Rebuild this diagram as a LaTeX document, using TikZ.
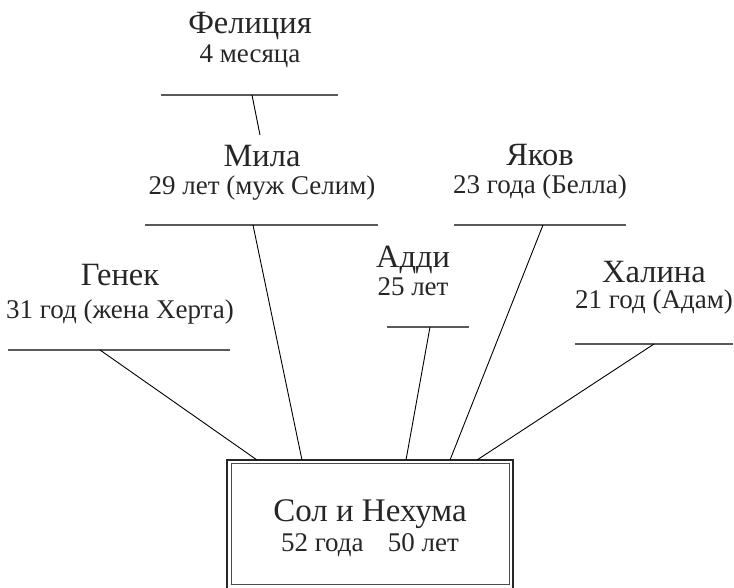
\documentclass[tikz,border=0pt]{standalone}
\usepackage{fontspec}
\setmainfont{Liberation Serif}
\begin{document}
\begin{tikzpicture}[x=1pt,y=-1pt,
  pname/.style={anchor=base, inner sep=0pt, font=\fontsize{32.5}{32.5}\selectfont, text=black!85},
  pinfo/.style={anchor=base, inner sep=0pt, font=\fontsize{27}{27}\selectfont, text=black!85},
  bar/.style={draw=black!65, line width=1.5pt},
  link/.style={draw=black, line width=0.9pt},
  outerframe/.style={draw=black!85, line width=2.6pt},
  innerframe/.style={draw=black!70, line width=0.8pt}]
\path[use as bounding box] (0,0) rectangle (734,587);
\clip (0,0) rectangle (734,587);

% root box
\draw[outerframe] (227,595) -- (227,460) -- (513,460) -- (513,595);
\node[innerframe, minimum width=278pt, minimum height=121pt, inner sep=0pt] (box) at (370,523.5) {};
\node[pname, font=\fontsize{33}{33}\selectfont] (sol) at (370,521) {Сол и Нехума};
\node[pinfo] (solage) at (370,551) {52 года\hspace{0.9em}50 лет};

% Felicia
\node[pname] (fel) at (250,33) {Фелиция};
\node[pinfo] (felage) at (250,62) {4 месяца};
\coordinate (felL) at (161,95); \coordinate (felR) at (338,95);
\draw[bar] (felL) -- (felR);
\coordinate (felA) at (252,95); \coordinate (felB) at (260,135);
\draw[link] (felA) -- (felB);

% Mila
\node[pname] (mila) at (262,166) {Мила};
\node[pinfo] (milaage) at (262,194) {29 лет (муж Селим)};
\coordinate (milaL) at (145,225); \coordinate (milaR) at (378,225);
\draw[bar] (milaL) -- (milaR);
\coordinate (milaA) at (253,225); \coordinate (milaB) at (302,460);
\draw[link] (milaA) -- (milaB);

% Genek
\node[pname] (gen) at (120,285) {Генек};
\node[pinfo] (genage) at (120,318) {31 год (жена Херта)};
\coordinate (genL) at (8,350); \coordinate (genR) at (230,350);
\draw[bar] (genL) -- (genR);
\coordinate (genA) at (100,350); \coordinate (genB) at (257,460);
\draw[link] (genA) -- (genB);

% Addi
\node[pname] (addi) at (413,267) {Адди};
\node[pinfo] (addiage) at (413,295) {25 лет};
\coordinate (addiL) at (387,327); \coordinate (addiR) at (469,327);
\draw[bar] (addiL) -- (addiR);
\coordinate (addiA) at (430,327); \coordinate (addiB) at (406,460);
\draw[link] (addiA) -- (addiB);

% Yakov
\node[pname] (yak) at (540,165) {Яков};
\node[pinfo] (yakage) at (540,193) {23 года (Белла)};
\coordinate (yakL) at (454,225); \coordinate (yakR) at (626,225);
\draw[bar] (yakL) -- (yakR);
\coordinate (yakA) at (543,225); \coordinate (yakB) at (450,460);
\draw[link] (yakA) -- (yakB);

% Halina
\node[pname] (hal) at (654,282) {Халина};
\node[pinfo] (halage) at (654,308) {21 год (Адам)};
\coordinate (halL) at (575,344); \coordinate (halR) at (733,344);
\draw[bar] (halL) -- (halR);
\coordinate (halA) at (654,344); \coordinate (halB) at (477,460);
\draw[link] (halA) -- (halB);
\end{tikzpicture}
\end{document}
